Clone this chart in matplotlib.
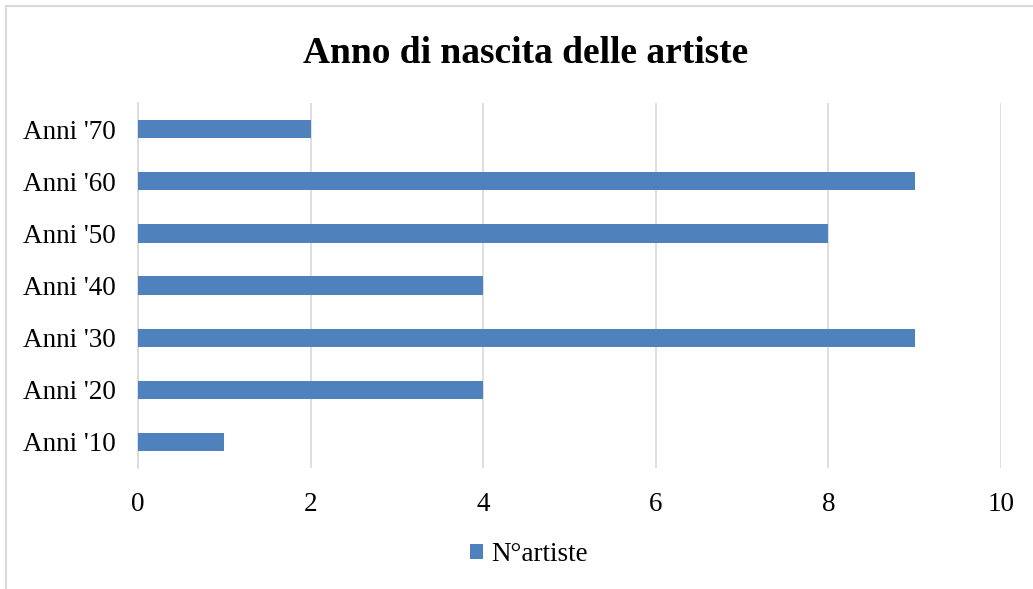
"""Horizontal bar chart: birth decade of the artists."""

import matplotlib.pyplot as plt
from matplotlib.patches import Rectangle

plt.rcParams["font.family"] = ["Liberation Serif", "DejaVu Serif"]

decades = ["Anni '10", "Anni '20", "Anni '30", "Anni '40", "Anni '50", "Anni '60", "Anni '70"]
n_artists = [1, 4, 9, 4, 8, 9, 2]
x_ticks = [0, 2, 4, 6, 8, 10]

BAR_COLOR = "#4F81BD"
GRID_COLOR = "#D9D9D9"

fig = plt.figure(figsize=(10.33, 5.89), dpi=100)
ax = fig.add_axes([0.1336, 0.2054, 0.8354, 0.6196])

ax.barh(decades, n_artists, height=0.35, color=BAR_COLOR, label="N°artiste", zorder=3)

ax.set_xlim(0, 10)
ax.set_ylim(-0.5, len(decades) - 0.5)
ax.set_xticks(x_ticks)
ax.xaxis.grid(True, color=GRID_COLOR, linewidth=1.2, zorder=0)
ax.tick_params(axis="both", length=0, labelsize=19.5, colors="black")
ax.tick_params(axis="x", pad=17)
ax.tick_params(axis="y", pad=16)
for side in ("top", "right", "bottom"):
    ax.spines[side].set_visible(False)
ax.spines["left"].set_color(GRID_COLOR)
ax.spines["left"].set_linewidth(1.2)

fig.text(0.509, 0.91, "Anno di nascita delle artiste", ha="center", va="center",
         fontsize=27, fontweight="bold")

fig.legend(loc="center", bbox_to_anchor=(0.512, 0.058), frameon=False, fontsize=19.5,
           handlelength=0.5, handleheight=0.5, handletextpad=0.3)

# outer chart frame, cut by the image edges on the right and bottom
fig.patches.append(Rectangle((6 / 1033, -0.05), 1.1, 1 - 6 / 589 + 0.05,
                             transform=fig.transFigure, fill=False,
                             edgecolor=GRID_COLOR, linewidth=1.5))

fig.savefig("out.png", dpi=100)
